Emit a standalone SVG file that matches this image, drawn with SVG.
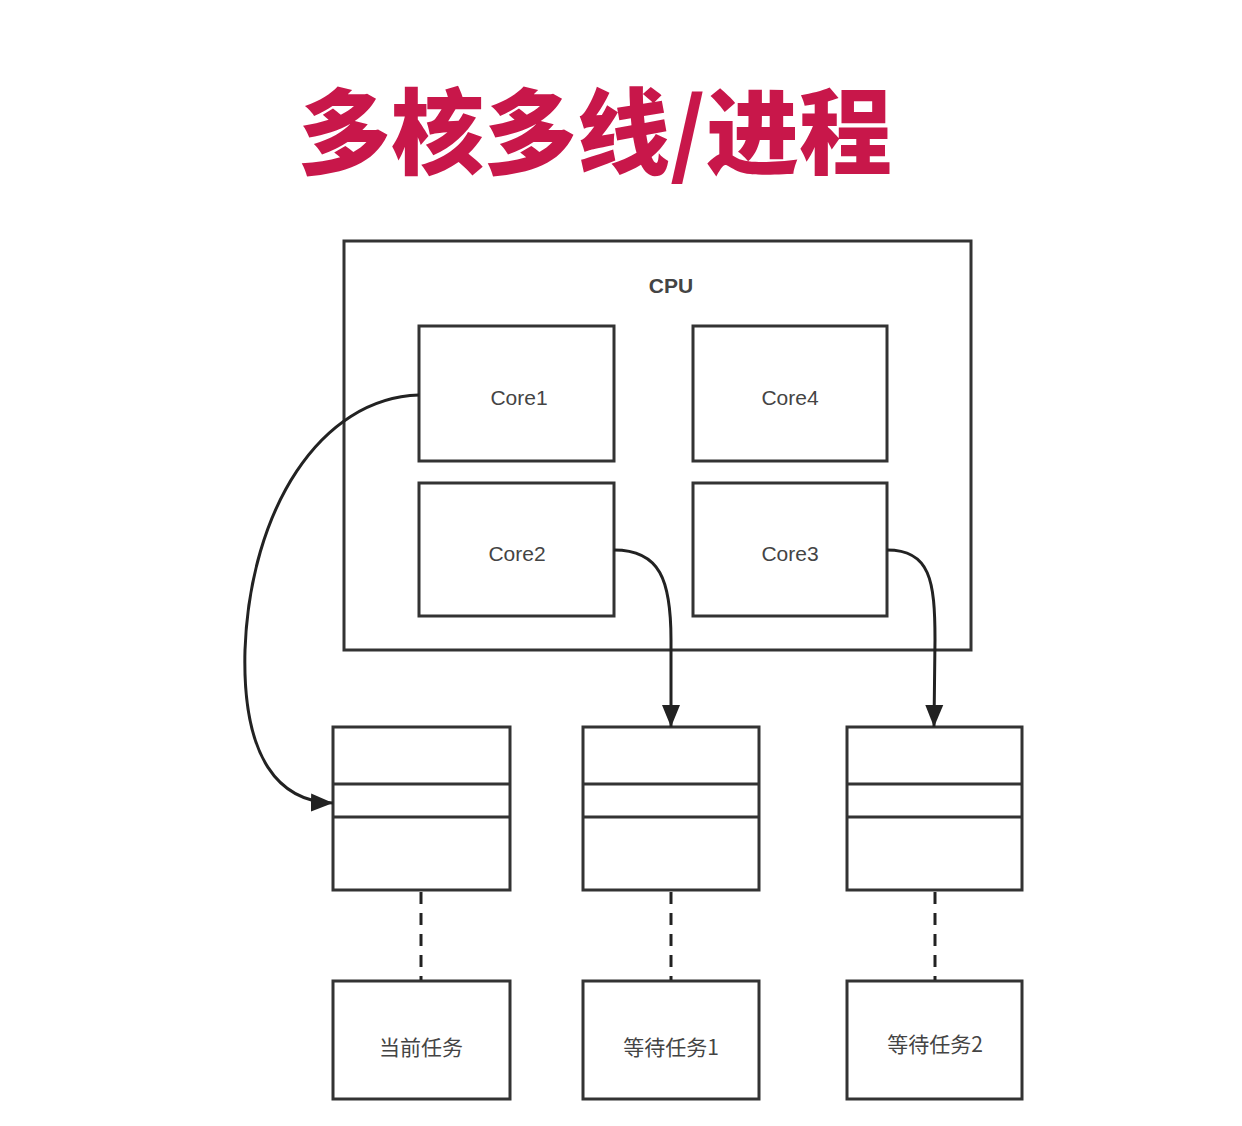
<svg xmlns="http://www.w3.org/2000/svg" width="1242" height="1126" viewBox="0 0 1242 1126">
<style>
.box{fill:#fff;stroke:#333;stroke-width:3}
.lbl{font-family:"Liberation Sans","Noto Sans CJK SC",sans-serif;font-size:21px;fill:#444;text-anchor:middle;dominant-baseline:central}
.cn{font-family:"Noto Sans CJK SC",sans-serif;font-size:21px;fill:#444;text-anchor:middle;dominant-baseline:central}
.con{fill:none;stroke:#222;stroke-width:3}
.dash{fill:none;stroke:#222;stroke-width:3;stroke-dasharray:12 9}
</style>
<defs>
<marker id="ah2" viewBox="0 0 22 20" refX="22" refY="10" markerWidth="22" markerHeight="20" markerUnits="userSpaceOnUse" orient="auto">
<path d="M0,1 L22,10 L0,19 Z" fill="#222"/>
</marker>
</defs>
<rect width="1242" height="1126" fill="#fff"/>
<g id="title">
<text x="595" y="167" font-family="Noto Sans CJK SC,sans-serif" font-weight="900" font-size="93" fill="#c8174a" text-anchor="middle">多核多线/进程</text>
</g>
<g id="cpu">
<rect class="box" x="344" y="241" width="627" height="409"/>
<text x="671" y="285" class="lbl" font-weight="bold" font-size="20" fill="#222">CPU</text>
</g>
<g id="core1"><rect class="box" x="419" y="326" width="195" height="135"/><text x="519" y="397" class="lbl">Core1</text></g>
<g id="core4"><rect class="box" x="693" y="326" width="194" height="135"/><text x="790" y="397" class="lbl">Core4</text></g>
<g id="core2"><rect class="box" x="419" y="483" width="195" height="133"/><text x="517" y="553" class="lbl">Core2</text></g>
<g id="core3"><rect class="box" x="693" y="483" width="194" height="133"/><text x="790" y="553" class="lbl">Core3</text></g>
<g id="queue1"><rect class="box" x="333" y="727" width="177" height="163"/><line class="box" x1="333" y1="784" x2="510" y2="784"/><line class="box" x1="333" y1="817" x2="510" y2="817"/></g>
<g id="queue2"><rect class="box" x="583" y="727" width="176" height="163"/><line class="box" x1="583" y1="784" x2="759" y2="784"/><line class="box" x1="583" y1="817" x2="759" y2="817"/></g>
<g id="queue3"><rect class="box" x="847" y="727" width="175" height="163"/><line class="box" x1="847" y1="784" x2="1022" y2="784"/><line class="box" x1="847" y1="817" x2="1022" y2="817"/></g>
<g id="task1"><rect class="box" x="333" y="981" width="177" height="118"/><text x="421" y="1046" class="cn">当前任务</text></g>
<g id="task2"><rect class="box" x="583" y="981" width="176" height="118"/><text x="671" y="1046" class="cn">等待任务1</text></g>
<g id="task3"><rect class="box" x="847" y="981" width="175" height="118"/><text x="935" y="1043" class="cn">等待任务2</text></g>
<g id="connectors">
<path class="con" d="M419,395 C320,398 250,510 245,650 C242,760 280,802 333,803" marker-end="url(#ah2)"/>
<path class="con" d="M614,550 C660,550 671,580 671,640 L671,727" marker-end="url(#ah2)"/>
<path class="con" d="M887,550 C930,550 935,580 935,640 L934,727" marker-end="url(#ah2)"/>
<line class="dash" x1="421" y1="892" x2="421" y2="980"/>
<line class="dash" x1="671" y1="892" x2="671" y2="980"/>
<line class="dash" x1="935" y1="892" x2="935" y2="980"/>
</g>
</svg>
